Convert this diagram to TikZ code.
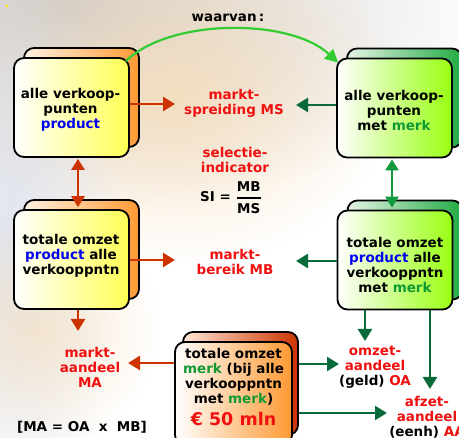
\documentclass[tikz,border=0pt]{standalone}
\usepackage{fontspec}
\setmainfont{DejaVu Sans}
\usepackage{amsmath}
\usetikzlibrary{arrows.meta,calc,fadings}
\definecolor{redtxt}{HTML}{F01010}
\definecolor{bluetxt}{HTML}{0000F0}
\definecolor{greentxt}{HTML}{119933}
\definecolor{arrred}{HTML}{CC3300}
\definecolor{arrgreen}{HTML}{0A6B3A}
\definecolor{arrgreentwo}{HTML}{11993D}
\definecolor{arcgreen}{HTML}{33CC33}
\definecolor{yel}{HTML}{FFFF55}
\definecolor{yelback}{HTML}{FF9933}
\definecolor{yelbackl}{HTML}{FFF2E4}
\definecolor{lime}{HTML}{99FF11}
\definecolor{limeback}{HTML}{22AA44}
\definecolor{limebackl}{HTML}{E6F4E6}
\definecolor{orfront}{HTML}{FF9933}
\definecolor{orback}{HTML}{CC3300}
\definecolor{orbackl}{HTML}{FFE6D6}
\definecolor{bggray}{HTML}{CFCBC8}
\definecolor{bgpeach}{HTML}{F7DDB8}
\definecolor{bgblue}{HTML}{D8DEEA}
\tikzfading[name=softfade, inner color=transparent!0, outer color=transparent!100]
\begin{document}
\begin{tikzpicture}[x=1pt,y=-1pt,
  box/.style={draw=black, line width=1.8pt, rounded corners=10pt, minimum width=115pt, minimum height=99pt, inner sep=0pt},
  ybox/.style={box, left color=white, right color=yel},
  yback/.style={box, left color=yelbackl, right color=yelback},
  gbox/.style={box, left color=white, right color=lime},
  gback/.style={box, left color=limebackl, right color=limeback},
  obox/.style={box, left color=white, right color=orfront},
  oback/.style={box, left color=orbackl, right color=orback},
  txt/.style={font=\fontsize{13.5}{15}\selectfont\bfseries, align=center, inner sep=0pt},
  lbl/.style={txt, text=redtxt},
  tip/.style={-{Triangle[length=12pt,width=14pt]}},
  dtip/.style={{Triangle[length=11pt,width=13pt]}-{Triangle[length=11pt,width=13pt]}},
  rarr/.style={draw=arrred, line width=2.5pt, tip},
  garr/.style={draw=arrgreen, line width=2.5pt, tip},
  arcarr/.style={draw=arcgreen, line width=2.2pt, -{Triangle[length=13pt,width=13pt]}}
]
\useasboundingbox (0,0) rectangle (459,438);
\clip (0,0) rectangle (459,438);
\fill[white] (0,0) rectangle (459,438);
% background clouds
\fill[bggray, path fading=softfade] (70,10) ellipse (420 and 200);
\fill[bgpeach, path fading=softfade, opacity=0.8] (175,95) ellipse (220 and 170);
\fill[bgblue, path fading=softfade, opacity=0.8] (10,240) ellipse (110 and 300);
\fill[bgpeach, path fading=softfade, opacity=0.6] (40,330) ellipse (120 and 120);
\fill[yellow] (7,6) circle (1.5);

% back boxes
\node[yback] (b1s) at (81.5,97.5) {};
\node[yback] (b2s) at (81.5,249.5) {};
\node[gback] (b3s) at (404.5,98) {};
\node[gback] (b4s) at (405,250) {};
\node[oback, minimum height=103pt] (b5s) at (240.5,383.5) {};
% front boxes
\node[ybox] (b1) at (71.5,107.5) {};
\node[ybox] (b2) at (71.5,259.5) {};
\node[gbox] (b3) at (394.5,108) {};
\node[gbox] (b4) at (395,260) {};
\node[obox, minimum width=117pt, minimum height=103pt] (b5) at (233.5,393.5) {};

% box texts
\node[txt] (t1) at (70.5,110) {alle verkoop-\\punten\\\textcolor{bluetxt}{product}};
\node[txt] (t2) at (71,256) {totale omzet\\\textcolor{bluetxt}{product} alle\\verkooppntn};
\node[txt] (t3) at (394,110) {alle verkoop-\\punten\\met \textcolor{greentxt}{merk}};
\node[txt] (t4) at (395,264.5) {totale omzet\\\textcolor{bluetxt}{product} alle\\verkooppntn\\met \textcolor{greentxt}{merk}};
\node[txt] (t5) at (233.5,387) {totale omzet\\\textcolor{greentxt}{merk} (bij alle\\verkooppntn\\met \textcolor{greentxt}{merk})\\[6pt]{\fontsize{17.5}{20}\selectfont\textcolor{redtxt}{€ 50 mln}}};

% labels
\node[txt] (wv) at (228,18) {waarvan\,:};
\node[lbl] (ms) at (234,103) {markt-\\spreiding MS};
\node[lbl] (sel) at (235,160) {selectie-\\indicator};
\node[txt] (si) at (231,198) {SI = $\genfrac{}{}{1.6pt}{0}{\hbox{MB}}{\hbox{MS}}$};
\node[lbl] (mb) at (235,262) {markt-\\bereik MB};
\node[lbl] (ma) at (90,367) {markt-\\aandeel\\MA};
\node[txt] (form) at (82,427) {[MA = OA~~x~~MB]};
\node[lbl] (oa) at (375,367) {omzet-\\aandeel\\\textcolor{black}{(geld)} OA};
\node[lbl] (aa) at (427,417) {afzet-\\aandeel\\\textcolor{black}{(eenh)} AA};

% arrow tip coordinates
\coordinate (msL) at (175,104);
\coordinate (msR) at (296,105);
\coordinate (mbL) at (175,260);
\coordinate (mbR) at (296,261);
\coordinate (maTop) at (78,331);
\coordinate (maR) at (128,363);
\coordinate (oaTop) at (365,341);
\coordinate (oaL) at (339,364);
\coordinate (aaTop) at (430,389);
\coordinate (aaL) at (387,413);

% arrows
\draw[arcarr] ([shift={(-4,4)}]b1.north east) .. controls (170,18) and (290,18) .. ([shift={(2,5)}]b3.north west);
\draw[rarr] (b1.east |- msL) -- (msL);
\draw[garr] (b3.west |- msR) -- (msR);
\draw[rarr] (b2.east |- mbL) -- (mbL);
\draw[garr] (b4.west |- mbR) -- (mbR);
\draw[draw=arrred, line width=2.5pt, dtip, shorten <=1pt, shorten >=2pt] ([xshift=6.5pt]b1.south) -- ([xshift=6.5pt]b2.north);
\draw[draw=arrgreentwo, line width=2.5pt, dtip, shorten <=1pt, shorten >=2pt] ([xshift=-2.5pt]b3.south) -- ([xshift=-3pt]b4.north);
\draw[rarr] (b2.south -| maTop) -- (maTop);
\draw[rarr] (b5.west |- maR) -- (maR);
\draw[garr] (b4.south -| oaTop) -- (oaTop);
\draw[garr] (b4.south -| aaTop) -- (aaTop);
\draw[garr] (b5s.east |- oaL) -- (oaL);
\draw[garr] (b5s.east |- aaL) -- (aaL);
\end{tikzpicture}
\end{document}
